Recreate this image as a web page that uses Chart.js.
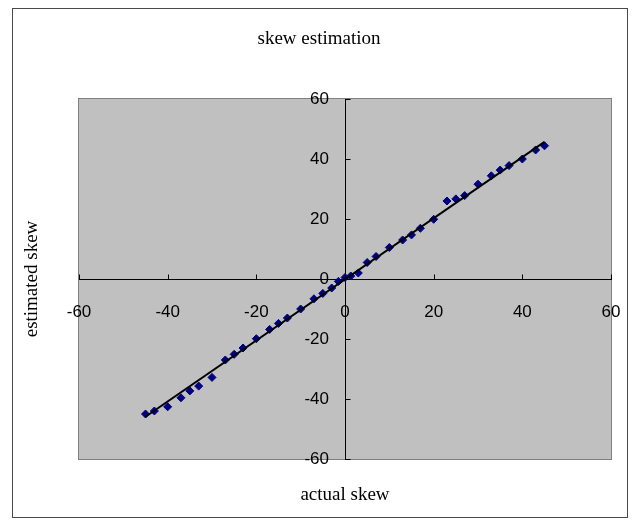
<!DOCTYPE html>
<html>
<head>
<meta charset="utf-8">
<script src="https://cdn.jsdelivr.net/npm/chart.js@4/dist/chart.umd.min.js"></script>
<style>
  html, body { margin: 0; padding: 0; background: #ffffff; }
  #wrap { width: 638px; height: 527px; position: relative; }
</style>
</head>
<body>
<div id="wrap"><canvas id="chart" width="638" height="527"></canvas></div>
<script>
// Measured skew values (actual vs. estimated)
const actualSkew = [-45, -43, -40, -37, -35, -33, -30, -27, -25, -23,
                    -20, -17, -15, -13, -10, -7, -5, -3, -1.5, 0,
                    1.3, 3, 5, 7, 10, 13, 15, 17, 20, 23,
                    25, 27, 30, 33, 35, 37, 40, 43, 45];
const estimatedSkew = [-45, -44, -42.6, -39.6, -37.3, -35.7, -32.8, -27, -25.1, -23,
                       -19.9, -16.8, -14.8, -13, -10, -6.6, -4.8, -3, -0.8, 0.5,
                       1, 2, 5.5, 7.5, 10.5, 13, 14.7, 16.9, 19.9, 26,
                       26.7, 27.8, 31.6, 34.4, 36.3, 37.8, 40, 43, 44.4];

// Linear trend line end points
const trendX = [-45, 45];
const trendY = [-45.9, 45.7];

// Axis tick values (both axes)
const axisTicks = [-60, -40, -20, 0, 20, 40, 60];

const chartTitle = 'skew estimation';
const xTitle = 'actual skew';
const yTitle = 'estimated skew';

const serif = '"Liberation Serif", "Times New Roman", serif';
const sans = '"Liberation Sans", Arial, sans-serif';

// Axes cross at the origin; tick labels sit away from the axis lines
const X_LABEL_DROP = 23;
const Y_LABEL_GAP = 16;

const labelOffsets = {
  id: 'labelOffsets',
  beforeDraw(chart) {
    const move = (scale, dx, dy) => {
      const items = scale.getLabelItems();
      if (items._moved) return;
      items.forEach(it => {
        it.options.translation[0] += dx;
        it.options.translation[1] += dy;
      });
      items._moved = true;
    };
    move(chart.scales.x, 0, X_LABEL_DROP);
    move(chart.scales.y, -Y_LABEL_GAP, 0);
  }
};

// Frame, gray plot area, tick marks and titles
const decorations = {
  id: 'decorations',
  beforeDraw(chart) {
    const ctx = chart.ctx;
    const a = chart.chartArea;
    ctx.save();
    ctx.fillStyle = '#ffffff';
    ctx.fillRect(0, 0, chart.width, chart.height);
    ctx.strokeStyle = '#4a4a4a';
    ctx.lineWidth = 1;
    ctx.strokeRect(12.5, 8.5, 615, 509);
    ctx.fillStyle = '#c0c0c0';
    ctx.fillRect(a.left, a.top, a.right - a.left, a.bottom - a.top);
    ctx.strokeStyle = '#808080';
    ctx.strokeRect(a.left - 0.5, a.top - 0.5, a.right - a.left + 1, a.bottom - a.top + 1);
    ctx.restore();
  },
  afterDraw(chart) {
    const ctx = chart.ctx;
    const xs = chart.scales.x, ys = chart.scales.y;
    const x0 = Math.round(xs.getPixelForValue(0)) + 0.5;
    const y0 = Math.round(ys.getPixelForValue(0)) + 0.5;
    ctx.save();
    ctx.strokeStyle = '#000000';
    ctx.lineWidth = 1;
    ctx.beginPath();
    axisTicks.forEach(v => {
      const px = Math.round(xs.getPixelForValue(v)) + 0.5;
      ctx.moveTo(px, y0);
      ctx.lineTo(px, y0 - 5);
      const py = Math.round(ys.getPixelForValue(v)) + 0.5;
      ctx.moveTo(x0, py);
      ctx.lineTo(x0 + 5, py);
    });
    ctx.stroke();

    ctx.fillStyle = '#000000';
    ctx.font = '19px ' + serif;
    ctx.textAlign = 'center';
    ctx.textBaseline = 'middle';
    ctx.fillText(chartTitle, 319, 39);
    ctx.fillText(xTitle, 345, 495);
    ctx.translate(32, 279);
    ctx.rotate(-Math.PI / 2);
    ctx.fillText(yTitle, 0, 0);
    ctx.restore();
  }
};

const axisCommon = {
  type: 'linear',
  min: -60,
  max: 60,
  grid: { display: false, drawTicks: false },
  border: { display: true, color: '#000000', width: 1 },
  afterBuildTicks(scale) {
    scale.ticks = axisTicks.map(v => ({ value: v }));
  }
};

new Chart(document.getElementById('chart'), {
  type: 'scatter',
  data: {
    datasets: [
      {
        label: 'trend',
        data: trendX.map((x, i) => ({ x, y: trendY[i] })),
        showLine: true,
        borderColor: '#000000',
        borderWidth: 2,
        pointRadius: 0,
        fill: false
      },
      {
        label: 'estimated skew',
        data: actualSkew.map((x, i) => ({ x, y: estimatedSkew[i] })),
        pointStyle: 'rectRot',
        pointRadius: 4,
        backgroundColor: '#000080',
        borderColor: '#000080',
        borderWidth: 1
      }
    ]
  },
  options: {
    responsive: false,
    animation: false,
    devicePixelRatio: 1,
    layout: { padding: { left: 79, right: 27, top: 99, bottom: 68 } },
    plugins: {
      legend: { display: false },
      title: { display: false },
      tooltip: { enabled: false }
    },
    scales: {
      x: Object.assign({}, axisCommon, {
        position: { y: 0 },
        ticks: { padding: 0, color: '#000000', font: { family: sans, size: 17 }, maxRotation: 0, autoSkip: false }
      }),
      y: Object.assign({}, axisCommon, {
        position: { x: 0 },
        ticks: { padding: 0, color: '#000000', font: { family: sans, size: 17 }, autoSkip: false }
      })
    }
  },
  plugins: [labelOffsets, decorations]
});
</script>
</body>
</html>
